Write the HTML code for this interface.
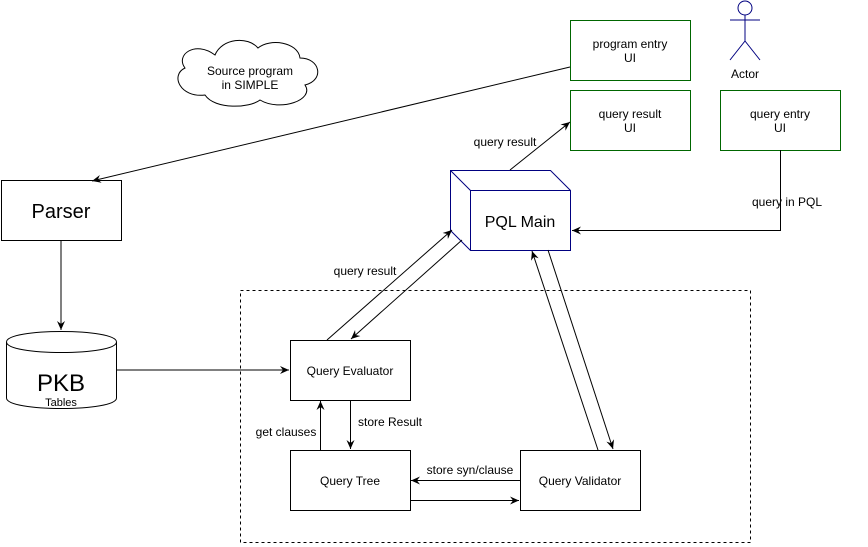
<!DOCTYPE html>
<html><head><style>body{margin:0;background:#fff}svg{display:block}text{font-family:"Liberation Sans",sans-serif;font-size:12px;fill:#000}</style></head><body>
<svg width="868" height="547" viewBox="0 0 868 547" xmlns="http://www.w3.org/2000/svg">
<defs><marker id="a" markerWidth="10" markerHeight="10" refX="9" refY="5" orient="auto" markerUnits="userSpaceOnUse"><path d="M0,1 L9,5 L0,9 L3,5 Z" fill="#000"/></marker></defs>
<g fill="none" stroke="#000" stroke-width="1">
<!-- cloud -->
<path d="M215,55 C195,40 175,55 185,68 C170,75 180,98 205,95 C215,110 250,108 260,100 C280,112 315,100 305,85 C325,80 320,58 300,58 C298,42 270,38 258,48 C248,36 222,38 215,55 Z"/>
<rect x="240.5" y="290.5" width="510" height="252" stroke-dasharray="3,3"/>
<rect x="1.5" y="180.5" width="120" height="60"/>
<rect x="290.5" y="340.5" width="120" height="60"/>
<rect x="290.5" y="450.5" width="120" height="60"/>
<rect x="520.5" y="450.5" width="120" height="60"/>
<g stroke="#006600"><rect x="570.5" y="20.5" width="120" height="60"/><rect x="570.5" y="90.5" width="120" height="60"/><rect x="720.5" y="90.5" width="120" height="60"/></g>
<g stroke="#000080"><path d="M450.5,170.5 H550.5 L570.5,190.5 V250.5 H470.5 L450.5,230.5 Z M450.5,170.5 L470.5,190.5 H570.5 M470.5,190.5 V250.5"/>
<circle cx="745" cy="8" r="7"/><path d="M745,15 V41 M730,20 H760 M745,41 L730,60 M745,41 L760,60"/></g>
<!-- cylinder -->
<path d="M6.5,342 V398 C6.5,412 116.5,412 116.5,398 V342"/>
<path d="M6.5,342 C6.5,328 116.5,328 116.5,342 C116.5,356 6.5,356 6.5,342 Z"/>
<!-- connectors -->
<line x1="570" y1="67" x2="92" y2="181" marker-end="url(#a)"/>
<line x1="61" y1="240" x2="61" y2="330" marker-end="url(#a)"/>
<line x1="116" y1="370" x2="289" y2="370" marker-end="url(#a)"/>
<line x1="327" y1="340" x2="452" y2="230" marker-end="url(#a)"/>
<line x1="462" y1="240" x2="351" y2="339" marker-end="url(#a)"/>
<line x1="510" y1="170" x2="570" y2="122" marker-end="url(#a)"/>
<polyline points="780.5,150 780.5,230.5 572,230.5" marker-end="url(#a)"/>
<line x1="548" y1="250" x2="613" y2="449" marker-end="url(#a)"/>
<line x1="598" y1="450" x2="532" y2="251" marker-end="url(#a)"/>
<line x1="320.5" y1="450" x2="320.5" y2="401" marker-end="url(#a)"/>
<line x1="350.5" y1="400" x2="350.5" y2="449" marker-end="url(#a)"/>
<line x1="520" y1="480.5" x2="411" y2="480.5" marker-end="url(#a)"/>
<line x1="410" y1="500.5" x2="519" y2="500.5" marker-end="url(#a)"/>
</g>
<g text-anchor="middle">
<text x="250" y="75">Source program</text><text x="250" y="89">in SIMPLE</text>
<text x="630" y="48">program entry</text><text x="630" y="62">UI</text>
<text x="630" y="118">query result</text><text x="630" y="132">UI</text>
<text x="780" y="118">query entry</text><text x="780" y="132">UI</text>
<text x="745" y="78">Actor</text>
<text x="61" y="218" style="font-size:20px">Parser</text>
<text x="520" y="227" style="font-size:16px">PQL Main</text>
<text x="61" y="391" style="font-size:24px">PKB</text>
<text x="61" y="406" style="font-size:11px">Tables</text>
<text x="350" y="375">Query Evaluator</text>
<text x="350" y="485">Query Tree</text>
<text x="580" y="485">Query Validator</text>
<text x="505" y="146">query result</text>
<text x="365" y="275">query result</text>
<text x="787" y="206">query in PQL</text>
<text x="286" y="436">get clauses</text>
<text x="390" y="426">store Result</text>
<text x="470" y="474">store syn/clause</text>
</g>
</svg>
</body></html>
